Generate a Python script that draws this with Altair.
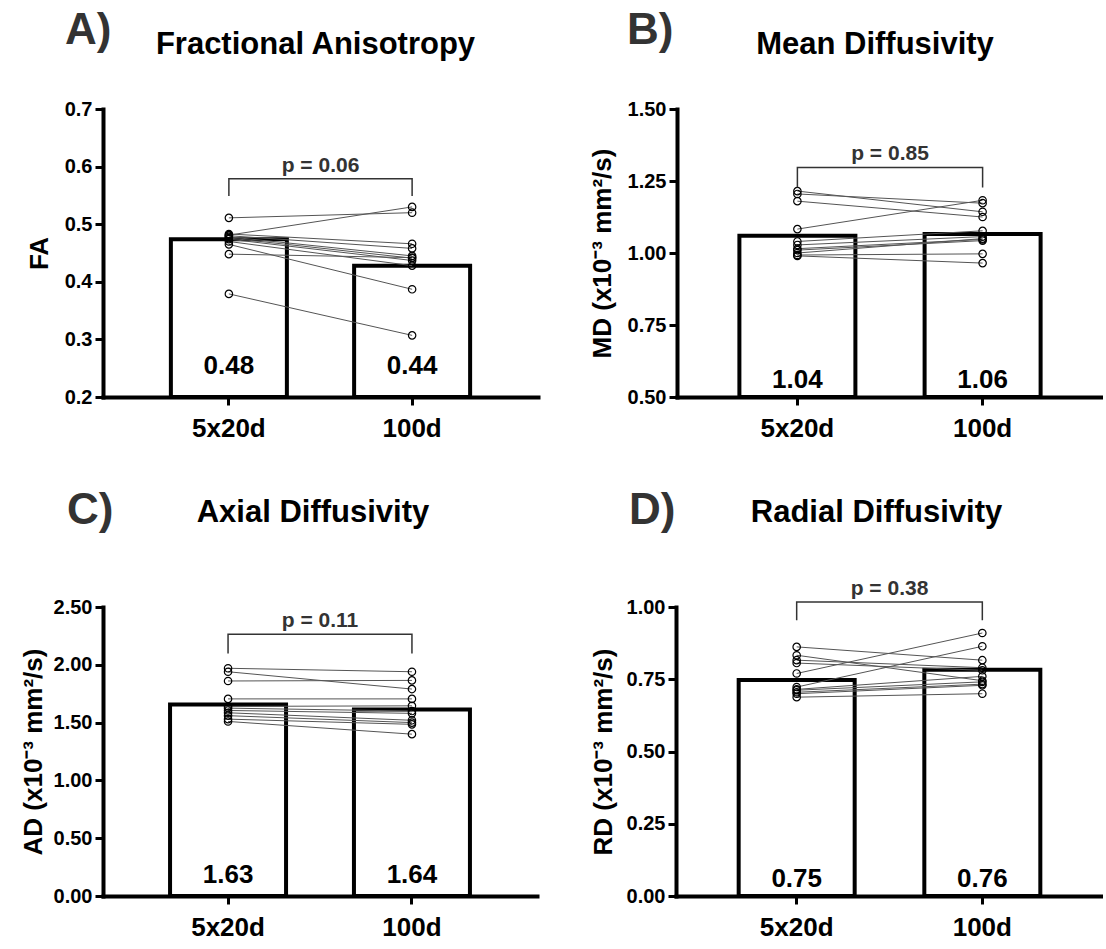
import altair as alt
import pandas as pd

GROUPS = ["5x20d", "100d"]
FONT = "Liberation Sans"

# ---- Panel A: Fractional Anisotropy ----
FA_5x20 = [0.511, 0.481, 0.483, 0.480, 0.478, 0.476, 0.474, 0.470, 0.465, 0.448, 0.379]
FA_100 = [0.520, 0.530, 0.466, 0.458, 0.445, 0.441, 0.437, 0.428, 0.387, 0.442, 0.307]
FA_BARS = [0.474, 0.428]
FA_LABELS = ["0.48", "0.44"]

# ---- Panel B: Mean Diffusivity ----
MD_5x20 = [1.215, 1.205, 1.180, 1.083, 1.040, 1.028, 1.015, 1.010, 1.000, 0.993, 0.990]
MD_100 = [1.143, 1.173, 1.125, 1.183, 1.077, 1.057, 1.047, 1.043, 1.050, 0.997, 0.965]
MD_BARS = [1.060, 1.066]
MD_LABELS = ["1.04", "1.06"]

# ---- Panel C: Axial Diffusivity ----
AD_5x20 = [1.970, 1.940, 1.860, 1.705, 1.640, 1.625, 1.605, 1.585, 1.560, 1.530, 1.510]
AD_100 = [1.940, 1.790, 1.865, 1.705, 1.645, 1.600, 1.580, 1.520, 1.500, 1.485, 1.400]
AD_BARS = [1.657, 1.613]
AD_LABELS = ["1.63", "1.64"]

# ---- Panel D: Radial Diffusivity ----
RD_5x20 = [0.862, 0.833, 0.816, 0.806, 0.770, 0.723, 0.715, 0.712, 0.705, 0.700, 0.688]
RD_100 = [0.816, 0.745, 0.790, 0.781, 0.910, 0.864, 0.760, 0.741, 0.733, 0.729, 0.700]
RD_BARS = [0.747, 0.783]
RD_LABELS = ["0.75", "0.76"]

P_TEXTS = ["p = 0.06", "p = 0.85", "p = 0.11", "p = 0.38"]
BRACKETS = [(0.579, 0.549), (1.297, 1.227), (2.264, 2.098), (1.017, 0.954)]


def panel(letter, title, ytitle, v5, v100, means, mean_labels, ptext, bracket,
          ydomain, tick_step, major_step, fmt, width, height, pad_outer,
          title_dx, letter_x, letter_y, title_y, value_dy, title_pad):
    n = len(v5)
    pts = pd.DataFrame({
        "subject": list(range(n)) * 2,
        "group": [GROUPS[0]] * n + [GROUPS[1]] * n,
        "gi": [0] * n + [1] * n,
        "value": list(v5) + list(v100),
    })
    bars = pd.DataFrame({"group": GROUPS, "mean": means, "label": mean_labels})
    br_top, br_leg = bracket
    br = pd.DataFrame({
        "group": [GROUPS[0], GROUPS[0], GROUPS[1], GROUPS[1]],
        "y": [br_leg, br_top, br_top, br_leg],
        "o": [0, 1, 2, 3],
    })
    nt = int(round((ydomain[1] - ydomain[0]) / tick_step))
    ticks = [round(ydomain[0] + i * tick_step, 6) for i in range(nt + 1)]

    xenc = alt.X("group:N", sort=GROUPS,
                 scale=alt.Scale(domain=GROUPS, paddingInner=0, paddingOuter=pad_outer),
                 axis=alt.Axis(title=None, labelAngle=0))
    yscale = alt.Scale(domain=ydomain, nice=False, zero=False)
    yaxis = alt.Axis(
        title=ytitle, values=ticks, titlePadding=title_pad,
        labelExpr=(f"abs(datum.value/{major_step} - round(datum.value/{major_step})) < 0.001"
                   f" ? format(datum.value, '{fmt}') : ''"),
    )

    bar = alt.Chart(bars).mark_bar(fill="white", stroke="black", strokeWidth=4, size=116).encode(
        x=xenc, y=alt.Y("mean:Q", scale=yscale, axis=yaxis), y2=alt.datum(ydomain[0]))
    lines = alt.Chart(pts).mark_line(color="#555555", strokeWidth=1).encode(
        x=xenc, y=alt.Y("value:Q"), detail="subject:N", order="gi:Q")
    points = alt.Chart(pts).mark_point(shape="circle", filled=False, stroke="black",
                                       strokeWidth=1.2, size=55, opacity=1).encode(
        x=xenc, y=alt.Y("value:Q"))
    brk = alt.Chart(br).mark_line(color="#333333", strokeWidth=1.5).encode(
        x=xenc, y=alt.Y("y:Q"), order="o:Q")
    ptxt = alt.Chart(pd.DataFrame({"t": [ptext]})).mark_text(
        font=FONT, fontSize=21, fontWeight="bold", color="#333333",
        baseline="alphabetic", dy=-7).encode(
        x=alt.value(width / 2), y=alt.datum(br_top), text="t:N")
    vals = alt.Chart(bars).mark_text(
        font=FONT, fontSize=26, fontWeight="bold", color="black",
        baseline="alphabetic", dy=-value_dy).encode(
        x=xenc, y=alt.datum(ydomain[0]), text="label:N")
    let = alt.Chart(pd.DataFrame({"t": [letter]})).mark_text(
        font=FONT, fontSize=44, fontWeight="bold", color="#333333",
        align="left", baseline="alphabetic").encode(
        x=alt.value(letter_x), y=alt.value(letter_y), text="t:N")
    ttl = alt.Chart(pd.DataFrame({"t": [title]})).mark_text(
        font=FONT, fontSize=31, fontWeight="bold", color="black",
        align="center", baseline="alphabetic").encode(
        x=alt.value(width / 2 + title_dx), y=alt.value(title_y), text="t:N")
    layers = [bar, lines, points, brk, ptxt, vals, let, ttl]
    return alt.layer(*layers).properties(width=width, height=height)


A = panel("A)", "Fractional Anisotropy", "FA", FA_5x20, FA_100, FA_BARS, FA_LABELS,
          P_TEXTS[0], BRACKETS[0], [0.2, 0.7], 0.05, 0.1, ".1f",
          435, 288, 0.187, -5, -38, -65, -55, 23, 12)
B = panel("B)", "Mean Diffusivity", "MD (x10⁻³ mm²/s)", MD_5x20, MD_100, MD_BARS, MD_LABELS,
          P_TEXTS[1], BRACKETS[1], [0.5, 1.5], 0.125, 0.25, ".2f",
          426, 288, 0.15, -15, -50, -65, -55, 9, 12)
C = panel("C)", "Axial Diffusivity", "AD (x10⁻³ mm²/s)", AD_5x20, AD_100, AD_BARS, AD_LABELS,
          P_TEXTS[2], BRACKETS[2], [0.0, 2.5], 0.25, 0.5, ".2f",
          434, 289, 0.18, -7, -36, -83, -85, 13, 7)
D = panel("D)", "Radial Diffusivity", "RD (x10⁻³ mm²/s)", RD_5x20, RD_100, RD_BARS, RD_LABELS,
          P_TEXTS[3], BRACKETS[3], [0.0, 1.0], 0.125, 0.25, ".2f",
          427, 289, 0.15, -13, -47, -83, -85, 9, 10)

chart = alt.vconcat(
    alt.hconcat(A, B, spacing=51),
    alt.hconcat(C, D, spacing=53),
    spacing=48,
).properties(
    padding={"left": 20, "top": 9, "right": 0, "bottom": 0},
    background="white",
).configure_view(stroke=None).configure_axis(
    domainWidth=4, domainColor="black", domainCap="square",
    tickColor="black", tickWidth=3, tickSize=8,
    labelFont=FONT, labelFontWeight="bold", labelColor="black",
    titleFont=FONT, titleFontWeight="bold", titleColor="black", grid=False,
).configure_axisY(labelFontSize=20, titleFontSize=26, labelPadding=3).configure_axisX(
    labelFontSize=26, labelPadding=10)

chart.save("out.html", embed_options={"renderer": "svg", "actions": False})
